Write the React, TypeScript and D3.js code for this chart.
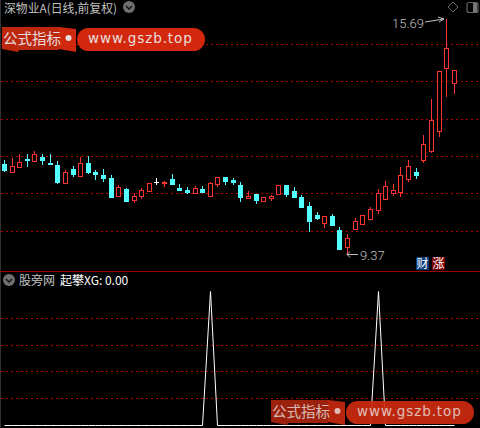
import React from "react";
import * as d3 from "d3";

const opens = [11.79,11.58,11.71,11.92,11.87,11.98,11.82,11.76,11.28,11.66,11.47,11.82,11.58,11.49,11.41,10.93,11.12,10.82,10.93,11.06,11.31,11.28,11.39,11.14,11.09,11.01,11.12,10.93,11.25,11.44,11.36,11.23,10.88,10.98,10.80,10.88,10.98,11.23,11.06,10.90,10.66,10.42,10.20,10.39,10.02,9.56,10.04,10.18,10.31,10.55,10.85,11.01,11.04,11.39,11.58,11.90,12.14,12.68,14.37,13.97];
const highs = [11.90,11.95,12.06,12.06,12.14,12.06,12.06,11.87,11.63,11.74,11.98,12.01,11.63,11.66,11.49,11.23,11.14,11.01,11.14,11.28,11.41,11.33,11.52,11.25,11.17,11.20,11.20,11.31,11.44,11.44,11.41,11.31,11.06,10.98,10.90,10.96,11.23,11.23,11.17,10.96,10.77,10.50,10.39,10.45,10.10,9.91,10.34,10.42,10.63,11.12,11.33,11.25,11.71,11.90,11.68,12.57,13.54,14.29,15.69,14.32];
const lows = [11.58,11.58,11.68,11.71,11.84,11.76,11.76,11.25,11.25,11.44,11.47,11.52,11.36,11.31,10.90,10.93,10.80,10.74,10.85,11.06,11.23,11.17,11.25,11.06,10.98,11.01,11.01,10.93,11.17,11.23,11.23,10.77,10.88,10.71,10.77,10.80,10.98,10.90,10.90,10.63,9.96,10.28,10.07,10.15,9.50,9.37,10.04,10.15,10.31,10.45,10.82,10.93,10.90,11.31,11.39,11.82,12.09,12.52,13.59,13.67];
const closes = [11.63,11.74,11.84,11.90,12.06,11.90,11.79,11.31,11.58,11.52,11.82,11.58,11.52,11.41,10.90,11.17,10.80,10.93,11.09,11.28,11.31,11.31,11.25,11.09,11.04,11.14,11.04,11.28,11.44,11.33,11.31,10.90,10.93,10.82,10.90,10.93,11.23,10.98,10.90,10.63,10.26,10.34,10.39,10.15,9.50,9.80,10.26,10.42,10.58,11.01,11.20,11.09,11.49,11.74,11.49,12.33,12.97,14.29,14.91,14.32];
const dojiIndex = [20];
const priceTicks = [15.02, 14.02, 13.0, 12.01, 11.01, 9.99];
const signalPeaks = [27, 49];
const signalTicks = [80, 60, 40, 20];
const header = "深物业A(日线,前复权)";
const subName = "股旁网";
const subTitle = "起攀XG: 0.00";
const watermarkA = "公式指标";
const watermarkB = "www.gszb.top";

const RED = "#ff3232";
const CYAN = "#54ffff";
const GRID = "#b40000";
const GREY = "#c0c0c0";
const CJK = "'Noto Sans CJK SC', 'Noto Sans', sans-serif";

const x = d3.scaleLinear().domain([0, 59]).range([4.5, 454.3]);
const y = d3.scaleLinear().domain([9.37, 15.69]).range([254, 19]);
const ySub = d3.scaleLinear().domain([0, 100]).range([425, 291]);

const signal = opens.map((_, i) => (signalPeaks.includes(i) ? 100 : 0));
const signalLine = d3
  .line<number>()
  .x((_, i) => Math.floor(x(i)) + 0.5)
  .y((d) => Math.floor(ySub(d)) + 0.5);

function Watermark({ dx, dy, main, side, pill, textOpacity }: { dx: number; dy: number; main: string; side: string; pill: string; textOpacity: number }) {
  return (
    <g transform={`translate(${dx},${dy})`} opacity={0.93}>
      <path d="M2 26H59V49H19L18 51L2 48Z" fill={main} />
      <path d="M59 26L76 28V51L59 48Z" fill={side} />
      <rect x={77} y={27} width={128} height={23} rx={11.5} fill={pill} />
      <text x={3} y={43} fontFamily={CJK} fontSize={14.5} fill="#fff" opacity={textOpacity}>{watermarkA}</text>
      <circle cx={68.5} cy={37} r={3} fill="#fff" opacity={textOpacity} />
      <text x={88} y={42} fontFamily="'DejaVu Sans', sans-serif" fontSize={13.5} letterSpacing={0.9} fill="#fff" opacity={textOpacity}>{watermarkB}</text>
    </g>
  );
}

function Chevron({ cx, cy }: { cx: number; cy: number }) {
  return (
    <g>
      <circle cx={cx} cy={cy} r={6} fill="#707070" />
      <path d={`M${cx - 3} ${cy - 1}L${cx} ${cy + 2}L${cx + 3} ${cy - 1}`} fill="none" stroke="#111" strokeWidth={1.4} />
    </g>
  );
}

export default function App() {
  return (
    <svg width={480} height={428} viewBox="0 0 480 428" style={{ position: "fixed", left: 0, top: 0, background: "#000", display: "block" }}>
      <rect x={0} y={0} width={1} height={428} fill="#333" />
      <g shapeRendering="crispEdges">
        {priceTicks.map((t) => (
          <line key={t} x1={1} x2={480} y1={Math.round(y(t)) + 0.5} y2={Math.round(y(t)) + 0.5} stroke={GRID} strokeDasharray="2 3" />
        ))}
        {signalTicks.map((t) => (
          <line key={t} x1={1} x2={480} y1={Math.round(ySub(t)) + 0.5} y2={Math.round(ySub(t)) + 0.5} stroke={GRID} strokeDasharray="2 3" />
        ))}
        <line x1={0} x2={480} y1={271.5} y2={271.5} stroke="#a00000" />
        {opens.map((o, i) => {
          const c = closes[i];
          const cx = Math.floor(x(i));
          const doji = dojiIndex.includes(i);
          const up = c > o;
          const col = doji ? "#ffffff" : up ? RED : CYAN;
          const top = Math.round(y(Math.max(o, c)));
          const bot = Math.round(y(Math.min(o, c)));
          const hi = Math.round(y(highs[i]));
          const lo = Math.round(y(lows[i]));
          return (
            <g key={i}>
              <rect x={cx} y={hi} width={1} height={Math.max(lo - hi, 1)} fill={col} />
              {up ? (
                <rect x={cx - 1.5} y={top + 0.5} width={4} height={Math.max(bot - top, 1)} fill="#000" stroke={col} strokeWidth={1} />
              ) : (
                <rect x={cx - 2} y={top} width={5} height={Math.max(bot - top, 1) + (doji ? 0 : 1)} fill={col} />
              )}
            </g>
          );
        })}
        <path d={signalLine(signal) ?? ""} fill="none" stroke="#fff" strokeWidth={1} shapeRendering="auto" />
      </g>

      <text x={4} y={13} fontFamily={CJK} fontSize={12} fill={GREY} textLength={113} lengthAdjust="spacingAndGlyphs">{header}</text>
      <Chevron cx={129} cy={7} />
      <path d="M453 2L458 7L453 12L448 7Z" fill="none" stroke="#666" />
      <rect x={467} y={2.5} width={11} height={10} rx={2} fill="none" stroke="#666" strokeWidth={1.2} />
      <rect x={473} y={3} width={4} height={9} fill="#777" />

      <text x={392} y={28} fontFamily="Roboto, sans-serif" fontWeight={300} fontSize={13} fill={GREY}>15.69</text>
      <path d="M425 22L444 19M438 17L444 19L439 22" fill="none" stroke={GREY} strokeWidth={1} />
      <text x={360} y={260} fontFamily="Roboto, sans-serif" fontWeight={300} fontSize={13} fill={GREY}>9.37</text>
      <path d="M358 254.5H347M350 251.5L347 254.5L350 257.5" fill="none" stroke={GREY} strokeWidth={1} />

      <rect x={416} y={257} width={13} height={13} fill="#0a3c78" />
      <text x={422.5} y={268} textAnchor="middle" fontFamily={CJK} fontSize={12} fill="#fff">财</text>
      <rect x={432} y={257} width={13} height={13} fill="#7d0000" />
      <text x={438.5} y={268} textAnchor="middle" fontFamily={CJK} fontSize={12} fill="#fff">涨</text>

      <Chevron cx={9} cy={280} />
      <text x={19} y={285} fontFamily={CJK} fontSize={12} fill={GREY}>{subName}</text>
      <text x={60} y={285} fontFamily={CJK} fontSize={12} fill="#fff">{subTitle}</text>

      <Watermark dx={0} dy={1} main="#cc2a10" side="#e02c10" pill="#e42c0e" textOpacity={0.92} />
      <Watermark dx={269} dy={374} main="#a8240e" side="#c4280e" pill="#cc2a0e" textOpacity={0.75} />
    </svg>
  );
}
